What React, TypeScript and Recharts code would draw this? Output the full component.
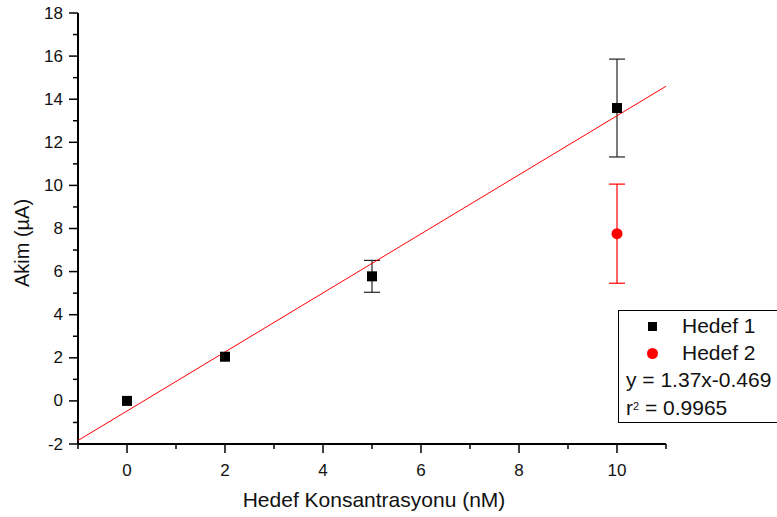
import React from 'react';
import { ComposedChart, Scatter, ErrorBar, XAxis, YAxis } from 'recharts';

const FONT = 'Arial, "Liberation Sans", sans-serif';

// Hedef 1 (black squares)
const hedef1X = [0, 2, 5, 10];
const hedef1Y = [0.0, 2.05, 5.78, 13.59];
const hedef1Err = [0, 0, 0.74, 2.27];

// Hedef 2 (red circle)
const hedef2X = [10];
const hedef2Y = [7.76];
const hedef2Err = [2.3];

// linear fit y = 1.37x - 0.469, end points of the drawn line
const fitX = [-1, 11];
const fitY = [-1.839, 14.601];

const xTicks = [-1, 0, 1, 2, 3, 4, 5, 6, 7, 8, 9, 10, 11];
const yTicks = [-2, -1, 0, 1, 2, 3, 4, 5, 6, 7, 8, 9, 10, 11, 12, 13, 14, 15, 16, 17, 18];

const hedef1 = hedef1X.map((x, i) => ({ x, y: hedef1Y[i], err: hedef1Err[i] }));
const hedef2 = hedef2X.map((x, i) => ({ x, y: hedef2Y[i], err: hedef2Err[i] }));
const fit = fitX.map((x, i) => ({ x, y: fitY[i] }));

const YTick = (props: any) => {
  const { x, y, payload } = props;
  const v = payload.value;
  const major = v % 2 === 0;
  return (
    <g>
      <line x1={x - (major ? 9 : 5)} y1={y} x2={x} y2={y} stroke="#000" strokeWidth={1.5} />
      {major && (
        <text x={x - 15} y={y} textAnchor="end" dominantBaseline="central" fontSize={17} fontFamily={FONT} fill="#111">
          {v}
        </text>
      )}
    </g>
  );
};

const XTick = (props: any) => {
  const { x, y, payload } = props;
  const v = payload.value;
  const major = v % 2 === 0;
  return (
    <g>
      <line x1={x} y1={y} x2={x} y2={y + (major ? 9 : 5)} stroke="#000" strokeWidth={1.5} />
      {major && (
        <text x={x} y={y + 26} textAnchor="middle" dominantBaseline="central" fontSize={17} fontFamily={FONT} fill="#111">
          {v}
        </text>
      )}
    </g>
  );
};

const Square = (props: any) => {
  const { cx, cy } = props;
  return <rect x={cx - 5} y={cy - 5} width={10} height={10} fill="#000" />;
};

const Dot = (props: any) => {
  const { cx, cy } = props;
  return <circle cx={cx} cy={cy} r={5.5} fill="#ff0000" />;
};

const NoShape = () => null;

export default function App() {
  return (
    <div style={{ position: 'absolute', left: 0, top: 0, width: 777, height: 517, overflow: 'hidden', background: '#fff' }}>
      <ComposedChart width={777} height={517} margin={{ top: 13, right: 111, bottom: 0, left: 0 }}>
        <XAxis
          type="number"
          dataKey="x"
          domain={[-1, 11]}
          ticks={xTicks}
          interval={0}
          allowDataOverflow
          height={73}
          tickSize={0}
          tickMargin={0}
          tickLine={false}
          tick={<XTick />}
          axisLine={{ stroke: '#000', strokeWidth: 2 }}
        />
        <YAxis
          type="number"
          dataKey="y"
          domain={[-2, 18]}
          ticks={yTicks}
          interval={0}
          allowDataOverflow
          width={78}
          tickSize={0}
          tickMargin={0}
          tickLine={false}
          tick={<YTick />}
          axisLine={{ stroke: '#000', strokeWidth: 2 }}
        />
        <Scatter data={fit} line={{ stroke: '#ff0000', strokeWidth: 1 }} shape={NoShape} isAnimationActive={false} />
        <Scatter data={hedef1} shape={Square} isAnimationActive={false}>
          <ErrorBar dataKey="err" direction="y" width={8} stroke="#222" strokeWidth={1.2} />
        </Scatter>
        <Scatter data={hedef2} shape={Dot} isAnimationActive={false}>
          <ErrorBar dataKey="err" direction="y" width={8} stroke="#ff0000" strokeWidth={1.2} />
        </Scatter>
      </ComposedChart>

      {/* axis titles */}
      <div
        style={{
          position: 'absolute', left: 374, top: 500, transform: 'translate(-50%, -50%)',
          fontFamily: FONT, fontSize: 21, color: '#111', whiteSpace: 'nowrap',
        }}
      >
        Hedef Konsantrasyonu (nM)
      </div>
      <div
        style={{
          position: 'absolute', left: 22, top: 243, transform: 'translate(-50%, -50%) rotate(-90deg)',
          fontFamily: FONT, fontSize: 20, color: '#111', whiteSpace: 'nowrap',
        }}
      >
        Akim (µA)
      </div>

      {/* legend box */}
      <div
        style={{
          position: 'absolute', left: 618, top: 310, width: 159, height: 113,
          borderTop: '1.5px solid #000', borderLeft: '1.5px solid #000', borderBottom: '1.5px solid #000',
          fontFamily: FONT, fontSize: 21, color: '#111', boxSizing: 'border-box',
        }}
      >
        <div style={{ position: 'absolute', left: 29, top: 11, width: 9, height: 9, background: '#000' }} />
        <div style={{ position: 'absolute', left: 63, top: 2, lineHeight: '26px' }}>Hedef 1</div>
        <div style={{ position: 'absolute', left: 28, top: 37, width: 11, height: 11, borderRadius: '50%', background: '#ff0000' }} />
        <div style={{ position: 'absolute', left: 63, top: 29, lineHeight: '26px' }}>Hedef 2</div>
        <div style={{ position: 'absolute', left: 7, top: 56, lineHeight: '26px', whiteSpace: 'nowrap' }}>y = 1.37x-0.469</div>
        <div style={{ position: 'absolute', left: 7, top: 84, lineHeight: '26px', whiteSpace: 'nowrap' }}>
          r<sup style={{ fontSize: 11, verticalAlign: 'top', position: 'relative', top: -2 }}>2</sup> = 0.9965
        </div>
      </div>
    </div>
  );
}
